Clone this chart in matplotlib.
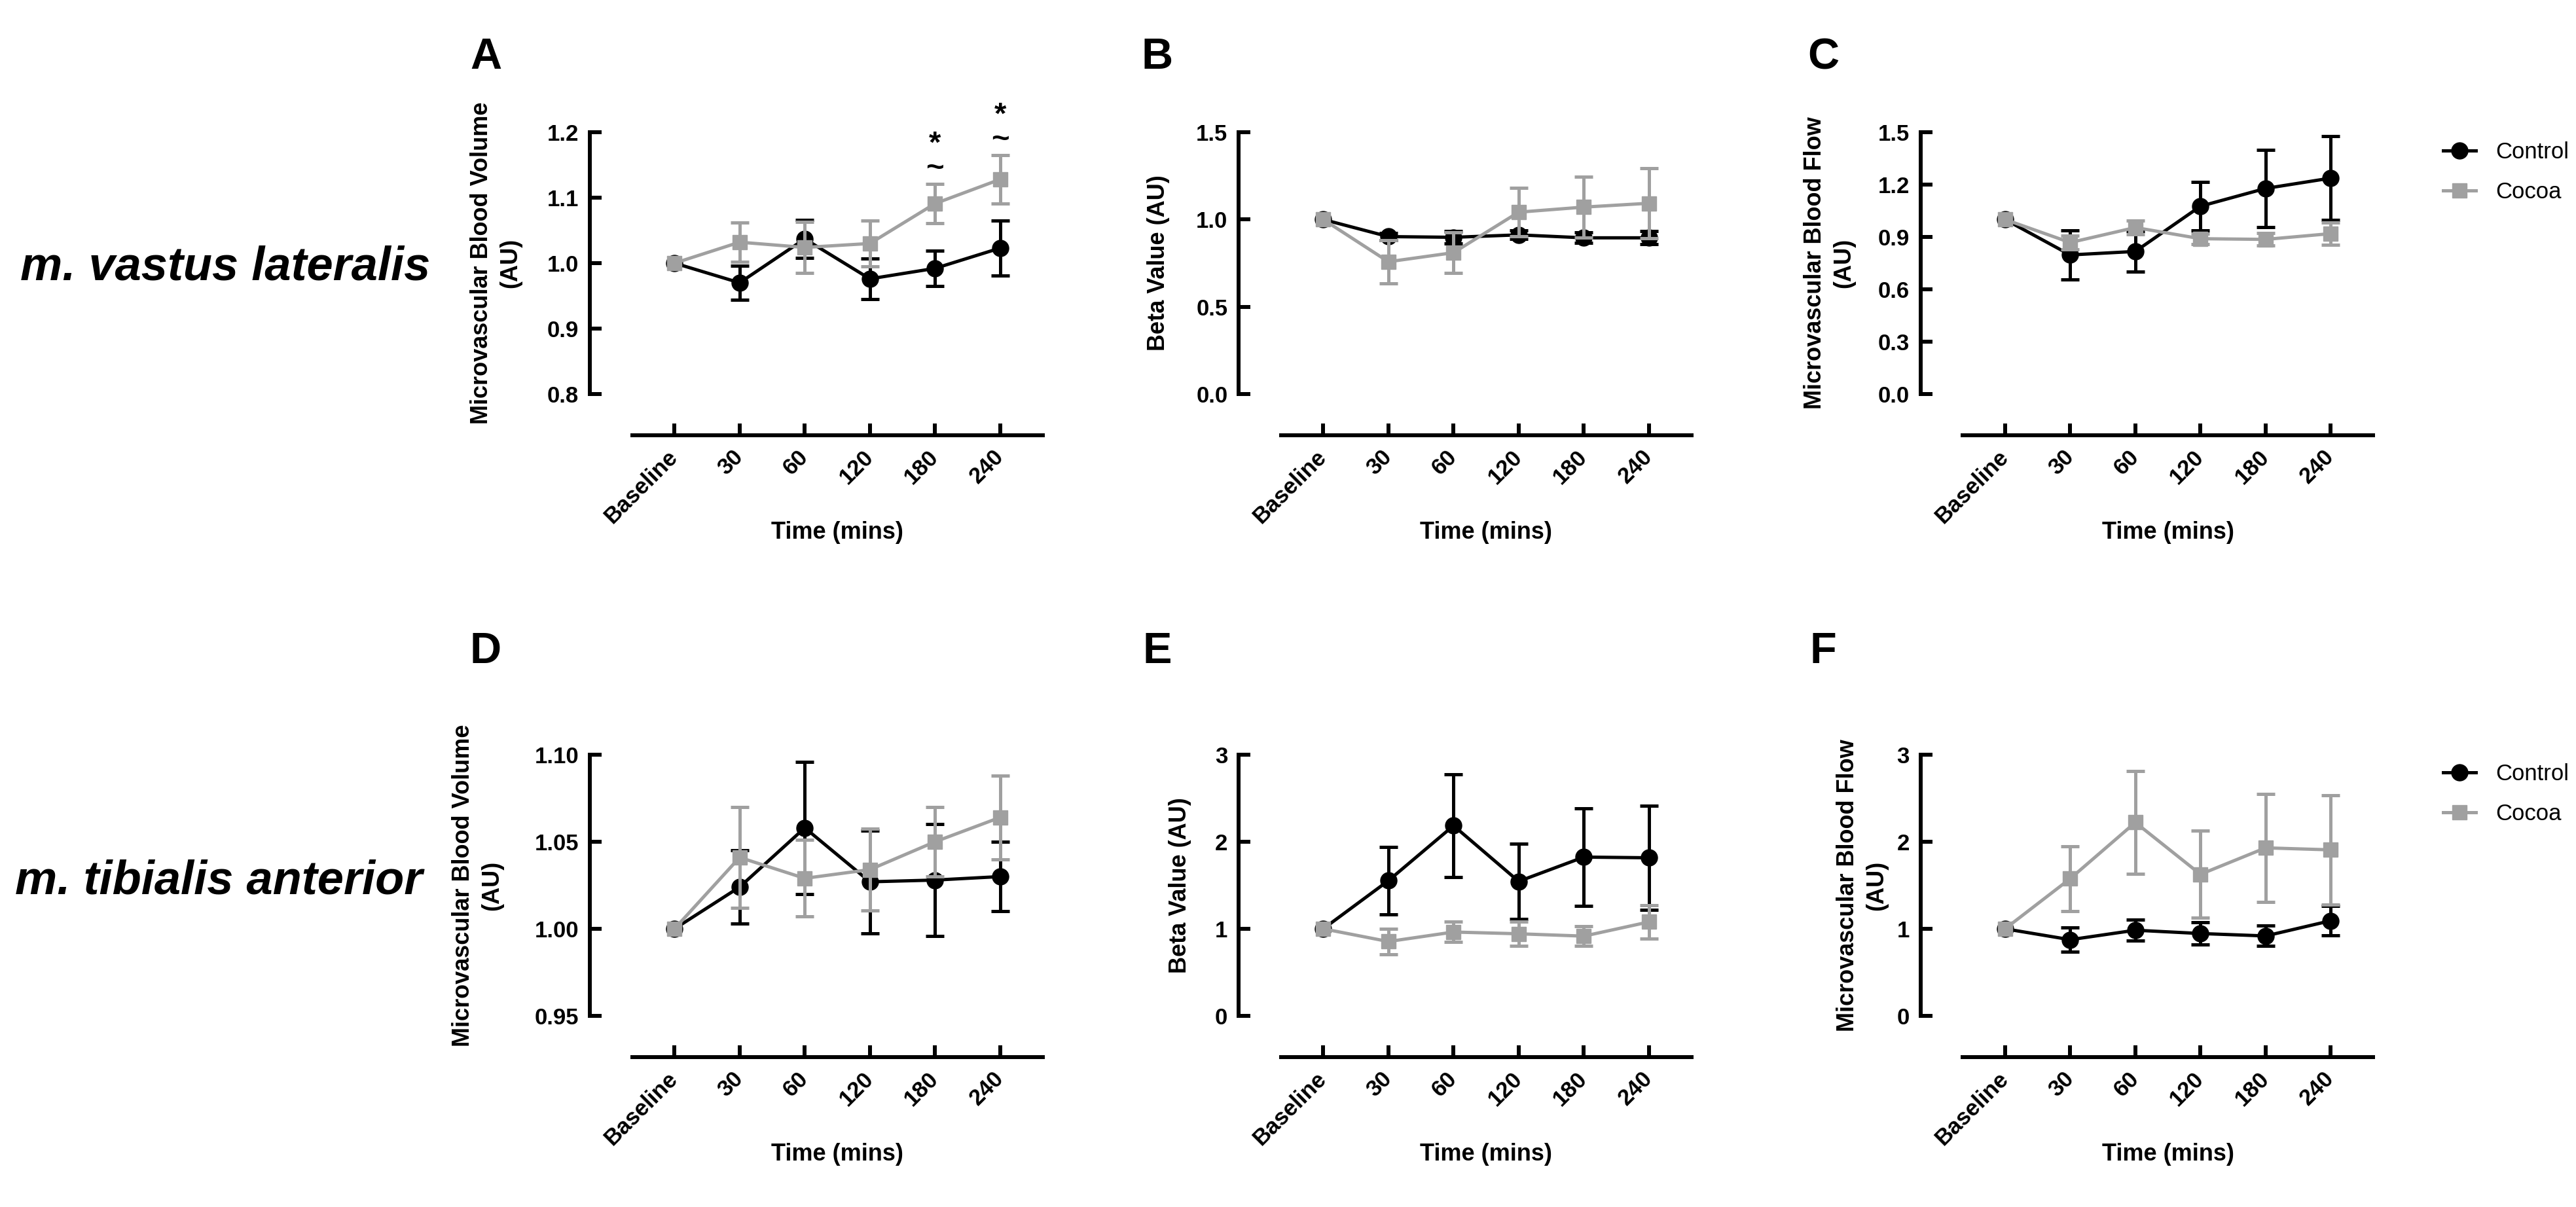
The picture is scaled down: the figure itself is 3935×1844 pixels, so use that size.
import matplotlib
matplotlib.use('Agg')
import matplotlib.pyplot as plt
from matplotlib.lines import Line2D
import numpy as np

plt.rcParams['font.family'] = ['Liberation Sans', 'DejaVu Sans']

W, H, DPI = 3935, 1844, 100
GRAY = '#a0a0a0'

timepoints = ['Baseline', '30', '60', '120', '180', '240']

# ---- m. vastus lateralis ----
vl_mbv_control = [1.000, 0.970, 1.037, 0.976, 0.992, 1.023]
vl_mbv_control_sem = [0.0, 0.026, 0.029, 0.031, 0.027, 0.042]
vl_mbv_cocoa = [1.000, 1.032, 1.024, 1.030, 1.091, 1.128]
vl_mbv_cocoa_sem = [0.0, 0.030, 0.039, 0.035, 0.030, 0.037]

vl_beta_control = [1.000, 0.902, 0.898, 0.912, 0.895, 0.895]
vl_beta_control_sem = [0.0, 0.020, 0.034, 0.025, 0.030, 0.037]
vl_beta_cocoa = [1.000, 0.758, 0.810, 1.042, 1.071, 1.093]
vl_beta_cocoa_sem = [0.0, 0.125, 0.115, 0.140, 0.175, 0.200]

vl_mbf_control = [1.000, 0.797, 0.817, 1.076, 1.178, 1.237]
vl_mbf_control_sem = [0.0, 0.140, 0.115, 0.140, 0.220, 0.240]
vl_mbf_cocoa = [1.000, 0.868, 0.954, 0.890, 0.886, 0.919]
vl_mbf_cocoa_sem = [0.0, 0.040, 0.040, 0.030, 0.035, 0.065]

# ---- m. tibialis anterior ----
ta_mbv_control = [1.000, 1.024, 1.058, 1.027, 1.028, 1.030]
ta_mbv_control_sem = [0.0, 0.021, 0.038, 0.0295, 0.032, 0.020]
ta_mbv_cocoa = [1.000, 1.041, 1.029, 1.034, 1.050, 1.064]
ta_mbv_cocoa_sem = [0.0, 0.029, 0.022, 0.0235, 0.020, 0.024]

ta_beta_control = [1.000, 1.553, 2.185, 1.545, 1.824, 1.816]
ta_beta_control_sem = [0.0, 0.39, 0.59, 0.43, 0.56, 0.60]
ta_beta_cocoa = [1.000, 0.854, 0.963, 0.943, 0.916, 1.079]
ta_beta_cocoa_sem = [0.0, 0.145, 0.116, 0.140, 0.115, 0.195]

ta_mbf_control = [1.000, 0.875, 0.984, 0.946, 0.918, 1.093]
ta_mbf_control_sem = [0.0, 0.14, 0.12, 0.13, 0.117, 0.17]
ta_mbf_cocoa = [1.000, 1.576, 2.222, 1.626, 1.930, 1.907]
ta_mbf_cocoa_sem = [0.0, 0.37, 0.59, 0.50, 0.62, 0.63]

# y ticks
ticks_mbv_vl = [0.8, 0.9, 1.0, 1.1, 1.2]
ticklabels_mbv_vl = ['0.8', '0.9', '1.0', '1.1', '1.2']
ticks_beta_vl = [0.0, 0.5, 1.0, 1.5]
ticklabels_beta_vl = ['0.0', '0.5', '1.0', '1.5']
ticks_mbf_vl = [0.0, 0.3, 0.6, 0.9, 1.2, 1.5]
ticklabels_mbf_vl = ['0.0', '0.3', '0.6', '0.9', '1.2', '1.5']
ticks_mbv_ta = [0.95, 1.00, 1.05, 1.10]
ticklabels_mbv_ta = ['0.95', '1.00', '1.05', '1.10']
ticks_ta = [0, 1, 2, 3]
ticklabels_ta = ['0', '1', '2', '3']

# significance marks in panel A (cocoa vs control)
sig_star_A = ['180', '240']
sig_tilde_A = ['180', '240']

series_names = ['Control', 'Cocoa']

fig = plt.figure(figsize=(W / DPI, H / DPI), dpi=DPI)

AX_W = 691.5
XLIM = (-1.3, 5.65)
PX2PT = 72.0 / DPI
LW_DATA = 3.6
LW_AXIS = 4.3


def draw_panel(left, top, bottom, ctrl, ctrl_sem, coc, coc_sem, yticks, yticklabels,
               ylabel, ylabel_right, letter, letter_x, letter_base):
    ax = fig.add_axes([left / W, 1 - bottom / H, AX_W / W, (bottom - top) / H])
    x = np.arange(len(timepoints))
    for vals, sem, color, marker, ms, z in [(ctrl, ctrl_sem, 'black', 'o', 18, 3),
                                            (coc, coc_sem, GRAY, 's', 16.5, 4)]:
        vals = np.asarray(vals, float)
        sem = np.asarray(sem, float)
        m = sem > 0
        ax.errorbar(x[m], vals[m], yerr=sem[m], fmt='none', ecolor=color,
                    elinewidth=LW_DATA, capsize=10, capthick=LW_DATA, zorder=z,
                    clip_on=False)
        ax.plot(x, vals, color=color, marker=marker, ms=ms, lw=LW_DATA, mec=color,
                mew=1, zorder=z + 0.1, clip_on=False)
    ax.set_xlim(*XLIM)
    ax.set_ylim(yticks[0], yticks[-1])
    for s in ['top', 'right']:
        ax.spines[s].set_visible(False)
    for s in ['left', 'bottom']:
        ax.spines[s].set_linewidth(LW_AXIS)
    ax.spines['bottom'].set_position(('outward', 63 * PX2PT))
    ax.spines['bottom'].set_bounds(-0.65, 5.65)
    ax.set_xticks(x)
    ax.set_xticklabels(timepoints)
    ax.set_yticks(yticks)
    ax.set_yticklabels(yticklabels)
    ax.tick_params(direction='in', length=13, width=LW_AXIS, labelsize=25, colors='black')
    ax.tick_params(axis='y', pad=12)
    ax.tick_params(axis='x', pad=20)
    for lab in ax.get_xticklabels() + ax.get_yticklabels():
        lab.set_fontweight('bold')
    plt.setp(ax.get_xticklabels(), rotation=45, ha='right', va='center',
             rotation_mode='anchor')
    ax.set_xlabel('Time (mins)', fontsize=26, fontweight='bold')
    ax.xaxis.set_label_coords((2.5 - XLIM[0]) / (XLIM[1] - XLIM[0]), -0.485)
    ax.set_ylabel(ylabel, fontsize=26, fontweight='bold', linespacing=1.35)
    ax.yaxis.set_label_coords((ylabel_right - left) / AX_W, 0.5)
    fig.text(letter_x / W, 1 - letter_base / H, letter, fontsize=48, fontweight='bold',
             ha='center', va='baseline')
    return ax


axA = draw_panel(901, 202, 602, vl_mbv_control, vl_mbv_control_sem, vl_mbv_cocoa,
                 vl_mbv_cocoa_sem, ticks_mbv_vl, ticklabels_mbv_vl,
                 'Microvascular Blood Volume\n(AU)', 797, 'A', 742, 105)
axB = draw_panel(1892, 202, 602, vl_beta_control, vl_beta_control_sem, vl_beta_cocoa,
                 vl_beta_cocoa_sem, ticks_beta_vl, ticklabels_beta_vl,
                 'Beta Value (AU)', 1787, 'B', 1768, 105)
axC = draw_panel(2933.5, 202, 602, vl_mbf_control, vl_mbf_control_sem, vl_mbf_cocoa,
                 vl_mbf_cocoa_sem, ticks_mbf_vl, ticklabels_mbf_vl,
                 'Microvascular Blood Flow\n(AU)', 2834, 'C', 2785, 105)
axD = draw_panel(901, 1153, 1552, ta_mbv_control, ta_mbv_control_sem, ta_mbv_cocoa,
                 ta_mbv_cocoa_sem, ticks_mbv_ta, ticklabels_mbv_ta,
                 'Microvascular Blood Volume\n(AU)', 769, 'D', 742, 1013)
axE = draw_panel(1892, 1153, 1552, ta_beta_control, ta_beta_control_sem, ta_beta_cocoa,
                 ta_beta_cocoa_sem, ticks_ta, ticklabels_ta,
                 'Beta Value (AU)', 1820, 'E', 1768, 1013)
axF = draw_panel(2933.5, 1153, 1552, ta_mbf_control, ta_mbf_control_sem, ta_mbf_cocoa,
                 ta_mbf_cocoa_sem, ticks_ta, ticklabels_ta,
                 'Microvascular Blood Flow\n(AU)', 2884, 'F', 2785, 1013)

# significance symbols above cocoa error bars in panel A (one stacked text per time point)
for i, tp in enumerate(timepoints):
    marks = []
    if tp in sig_star_A:
        marks.append('*')
    if tp in sig_tilde_A:
        marks.append('~')
    if not marks:
        continue
    ytop = vl_mbv_cocoa[i] + vl_mbv_cocoa_sem[i]
    axA.annotate('\n'.join(marks), (i, ytop), xytext=(0, 1), textcoords='offset points',
                 ha='center', va='bottom', fontsize=34, fontweight='bold',
                 linespacing=0.8)

# legends
handles = [Line2D([0], [0], color='black', marker='o', ms=18, lw=LW_DATA),
           Line2D([0], [0], color=GRAY, marker='s', ms=16.5, lw=LW_DATA)]
for ax, ytop in [(axC, 216), (axF, 1166)]:
    ax.legend(handles, series_names, loc='upper left',
              bbox_to_anchor=(3732 / W, 1 - ytop / H), bbox_transform=fig.transFigure,
              frameon=False, fontsize=25, handlelength=1.45, handletextpad=0.85,
              labelspacing=0.8, borderpad=0, borderaxespad=0)

# row labels
fig.text(344.5 / W, 1 - 427 / H, 'm. vastus lateralis', fontsize=52, fontweight='bold',
         style='italic', ha='center', va='baseline')
fig.text(334.5 / W, 1 - 1365 / H, 'm. tibialis anterior', fontsize=52, fontweight='bold',
         style='italic', ha='center', va='baseline')

fig.savefig('out.png', dpi=DPI, facecolor='white')
